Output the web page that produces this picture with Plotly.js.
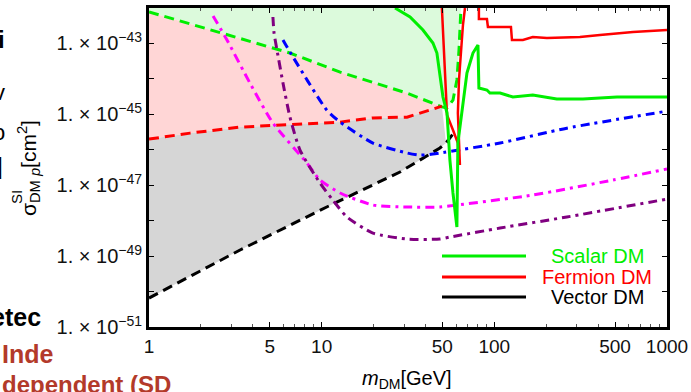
<!DOCTYPE html>
<html><head><meta charset="utf-8">
<script src="https://cdn.plot.ly/plotly-3.0.1.min.js"></script>
<style>html,body{margin:0;padding:0;background:#fff;}#chart{width:691px;height:392px;}</style>
</head><body><div id="chart"></div>
<script>
// ---------- data (m in GeV, sigma in cm^2) ----------
const scalarBoundM     = [1, 2.68, 6.55, 12.8, 31.2, 49.7, 53.2, 57.6, 60.7, 62.4, 64.1];
const scalarBoundSigma = [7.76e-43, 1.95e-43, 5.37e-44, 1.55e-44, 3.98e-45, 1.62e-45, 1.51e-45, 2.51e-45, 9.33e-45, 6.46e-44, 1.0e-42];

const fermionBoundM     = [1, 1.73, 3.37, 6.55, 12.8, 19.8, 31.2, 42.4, 49.7];
const fermionBoundSigma = [2.0e-46, 2.95e-46, 4.37e-46, 5.01e-46, 6.03e-46, 7.94e-46, 8.32e-46, 1.32e-45, 1.70e-45];

const vectorBoundM     = [1, 3.37, 10.7, 28.4, 48.4, 52.5, 59.9];
const vectorBoundSigma = [6.56e-51, 1.49e-49, 2.43e-48, 2.36e-47, 1.12e-46, 1.55e-46, 3.61e-46];

const blueM     = [5.97, 6.55, 10.7, 12.8, 19.8, 31.2, 37.1, 44.1, 48.4, 108, 263, 1000];
const blueSigma = [1.26e-43, 5.75e-44, 1.32e-45, 6.03e-46, 1.55e-46, 8.13e-47, 7.08e-47, 7.59e-47, 8.13e-47, 1.55e-46, 4.07e-46, 1.23e-45];

const magentaM     = [2.35, 2.83, 3.84, 5.22, 8.22, 9.78, 12.8, 19.8, 31.2, 48.4, 60.7, 167, 486, 1000];
const magentaSigma = [5.94e-43, 1.25e-43, 7.66e-45, 5.69e-46, 4.23e-47, 1.40e-47, 6.03e-48, 2.76e-48, 2.43e-48, 2.43e-48, 2.76e-48, 5.28e-48, 1.40e-47, 2.88e-47];

const purpleM     = [5.22, 5.30, 5.51, 5.97, 6.55, 7.49, 9.78, 11.6, 14.0, 19.8, 31.2, 48.4, 55.3, 108, 263, 1000];
const purpleSigma = [5.57e-43, 1.97e-43, 6.53e-44, 7.66e-45, 8.39e-46, 9.84e-47, 1.15e-47, 3.82e-48, 1.27e-48, 4.48e-49, 3.03e-49, 3.03e-49, 3.45e-49, 6.19e-49, 1.27e-48, 4.07e-48];

const scalarM     = [26.6, 32.5, 38.6, 44.1, 46.5, 48.4, 50.4, 53.2, 55.3, 57.6, 60.7, 61.5, 64.9, 69.4, 75.2, 80.4, 81.4, 90.6, 94.3, 108, 128, 167, 230, 326, 513, 1000];
const scalarSigma = [1.0e-42, 5.57e-43, 2.39e-43, 1.03e-43, 5.37e-44, 1.47e-44, 3.08e-45, 1.09e-45, 5.14e-47, 6.03e-48, 6.61e-49, 1.55e-46, 1.32e-45, 1.47e-44, 5.37e-44, 9.04e-44, 5.53e-45, 4.85e-45, 4.0e-45, 4.0e-45, 3.08e-45, 3.51e-45, 2.70e-45, 2.70e-45, 3.08e-45, 3.08e-45];

const fermionM     = [49.7, 51.1, 52.5, 53.2, 57.6, 61.5, 63.2, 62.4, 61.5, 62.4, 64.1, 65.8, 67.6, null, 81.4, 81.4, 90.6, 91.8, 124.8, 126.5, 146.4, 167, 201.6, 313, 409, 635, 1000];
const fermionSigma = [1.0e-42, 6.53e-44, 4.85e-45, 9.57e-46, 3.61e-46, 1.55e-46, 3.72e-47, 1.88e-46, 1.09e-45, 9.29e-45, 6.53e-44, 3.31e-43, 1.0e-42, null, 1.2e-42, 4.9e-43, 4.9e-43, 2.91e-43, 2.91e-43, 1.25e-43, 1.25e-43, 1.52e-43, 1.43e-43, 1.52e-43, 1.73e-43, 2.10e-43, 2.39e-43];

const xTickVals = [1, 5, 10, 50, 100, 500, 1000];
const xTickText = ['1', '5', '10', '50', '100', '500', '1000'];
const xMinorVals = [2,3,4,6,7,8,9,20,30,40,60,70,80,90,200,300,400,600,700,800,900];
const yLabelled  = [-51, -49, -47, -45, -43];
const yUnlabelled = [-50, -48, -46, -44, -42];

const legendNames = ['Scalar DM', 'Fermion DM', 'Vector DM'];

// ---------- styles ----------
const GREEN = '#00ee00', RED = '#ff0000', BLACK = '#000000';
const FONT = '"Liberation Sans", Arial, Helvetica, sans-serif';
const DASH = '10px,6px';
const DOTDASH = '9px,5px,3px,5px';

const yRangeLog = [-51, -42];
const yAbove = Math.pow(10, yRangeLog[1] + 0.5);

// fill regions built from the bound curves
const meetM = fermionBoundM[fermionBoundM.length - 1];
const greenFillX = scalarBoundM.concat([scalarBoundM[scalarBoundM.length-1], scalarBoundM[0]]);
const greenFillY = scalarBoundSigma.concat([yAbove, yAbove]);

const pinkIdx = scalarBoundM.map((m,i)=>i).filter(i => scalarBoundM[i] <= meetM);
const pinkX = pinkIdx.map(i=>scalarBoundM[i]).concat(fermionBoundM.slice().reverse());
const pinkY = pinkIdx.map(i=>scalarBoundSigma[i]).concat(fermionBoundSigma.slice().reverse());

const grayEdgeM = 52.5;
const grayIdx = vectorBoundM.map((m,i)=>i).filter(i => vectorBoundM[i] <= grayEdgeM).reverse();
const grayX = fermionBoundM.concat(grayIdx.map(i=>vectorBoundM[i]));
const grayY = fermionBoundSigma.concat(grayIdx.map(i=>vectorBoundSigma[i]));

const traces = [
  {x: greenFillX, y: greenFillY, fill:'toself', fillcolor:'#dcfadc', mode:'lines', line:{width:0}, hoverinfo:'skip'},
  {x: pinkX, y: pinkY, fill:'toself', fillcolor:'#ffd6d6', mode:'lines', line:{width:0}, hoverinfo:'skip'},
  {x: grayX, y: grayY, fill:'toself', fillcolor:'#d6d6d6', mode:'lines', line:{width:0}, hoverinfo:'skip'},
  {x: scalarBoundM, y: scalarBoundSigma, mode:'lines', line:{color:GREEN, width:3, dash:DASH}},
  {x: fermionBoundM, y: fermionBoundSigma, mode:'lines', line:{color:RED, width:3, dash:DASH}},
  {x: vectorBoundM, y: vectorBoundSigma, mode:'lines', line:{color:BLACK, width:3, dash:DASH}},
  {x: blueM, y: blueSigma, mode:'lines', line:{color:'#0000ff', width:3, dash:DOTDASH, shape:'spline', smoothing:0.6}},
  {x: magentaM, y: magentaSigma, mode:'lines', line:{color:'#ff00ff', width:3, dash:DOTDASH, shape:'spline', smoothing:0.6}},
  {x: purpleM, y: purpleSigma, mode:'lines', line:{color:'#800080', width:3, dash:DOTDASH, shape:'spline', smoothing:0.6}},
  {x: fermionM, y: fermionSigma, mode:'lines', connectgaps:false, line:{color:RED, width:2.5}},
  {x: scalarM, y: scalarSigma, mode:'lines', line:{color:GREEN, width:3}}
];

const L = 149, R = 667, T = 8, B = 327;
const px = p => (p - L) / (R - L);
const py = p => (B - p) / (B - T);

const legendColors = [GREEN, RED, BLACK];
const legendY = [256, 277, 297];
const shapes = legendNames.map((n,i)=>({type:'line', xref:'paper', yref:'paper', x0:px(442), x1:px(526), y0:py(legendY[i]), y1:py(legendY[i]), line:{color:legendColors[i], width:3}}));

const annotations = legendNames.map((n,i)=>({text:n, xref:'paper', yref:'paper', x:px(597), y:py(legendY[i]), xanchor:'center', yanchor:'middle', showarrow:false, font:{family:FONT, size:20, color:legendColors[i]}}));

annotations.push(
  {text:'<i>m</i><sub>DM</sub>[GeV]', xref:'paper', yref:'paper', x:px(407), y:py(379), xanchor:'center', yanchor:'middle', showarrow:false, font:{family:FONT, size:20, color:'#000'}},
  {text:'σ<sub>DM <i>p</i></sub>[cm<sup>2</sup>]', textangle:-90, xref:'paper', yref:'paper', x:px(29), y:py(168), xanchor:'center', yanchor:'middle', showarrow:false, font:{family:FONT, size:21, color:'#000'}},
  {text:'SI', textangle:-90, xref:'paper', yref:'paper', x:px(16), y:py(197), xanchor:'center', yanchor:'middle', showarrow:false, font:{family:FONT, size:15, color:'#000'}},
  // fragments of neighbouring page text visible at the left edge
  {text:'<b>i</b>', xref:'paper', yref:'paper', x:px(7), y:py(40), xanchor:'right', yanchor:'middle', showarrow:false, font:{family:FONT, size:24, color:'#000'}},
  {text:'v', xref:'paper', yref:'paper', x:px(7), y:py(93), xanchor:'right', yanchor:'middle', showarrow:false, font:{family:FONT, size:22, color:'#000'}},
  {text:'o', xref:'paper', yref:'paper', x:px(7), y:py(132), xanchor:'right', yanchor:'middle', showarrow:false, font:{family:FONT, size:22, color:'#000'}},
  {text:'|', xref:'paper', yref:'paper', x:px(5), y:py(165), xanchor:'right', yanchor:'middle', showarrow:false, font:{family:FONT, size:24, color:'#000'}},
  {text:'<b>etec</b>', xref:'paper', yref:'paper', x:px(43), y:py(317), xanchor:'right', yanchor:'middle', showarrow:false, font:{family:FONT, size:25, color:'#000'}},
  {text:'<b>Inde</b>', xref:'paper', yref:'paper', x:px(0), y:py(354), xanchor:'left', yanchor:'middle', showarrow:false, font:{family:FONT, size:25, color:'#b33a2a'}},
  {text:'<b>dependent (SD</b>', xref:'paper', yref:'paper', x:px(0), y:py(384), xanchor:'left', yanchor:'middle', showarrow:false, font:{family:FONT, size:24, color:'#b33a2a'}}
);

const yTickVals = yLabelled.map(e => Math.pow(10, e));
const yTickText = yLabelled.map(e => '1. × 10<sup>−' + Math.abs(e) + '</sup>');
const yMinorVals = yUnlabelled.map(e => Math.pow(10, e));

const layout = {
  width: 691, height: 392,
  margin: {l: L, r: 691 - R, t: T, b: 392 - B, pad: 0},
  paper_bgcolor: '#fff', plot_bgcolor: '#fff',
  showlegend: false,
  font: {family: FONT, size: 19, color: '#111'},
  xaxis: {
    type: 'log', range: [0, 3], showgrid: false, zeroline: false,
    showline: true, linecolor: '#000', linewidth: 3, mirror: 'ticks',
    ticks: 'inside', ticklen: 5, tickwidth: 1, tickcolor: '#000',
    tickmode: 'array', tickvals: xTickVals, ticktext: xTickText,
    tickfont: {family: FONT, size: 19, color: '#111'},
    minor: {ticks: 'inside', ticklen: 3, tickwidth: 1, tickcolor: '#555', tickmode: 'array', tickvals: xMinorVals, showgrid: false}
  },
  yaxis: {
    type: 'log', range: yRangeLog, showgrid: false, zeroline: false,
    showline: true, linecolor: '#000', linewidth: 3, mirror: 'ticks',
    ticks: 'inside', ticklen: 5, tickwidth: 1, tickcolor: '#000',
    tickmode: 'array', tickvals: yTickVals, ticktext: yTickText,
    tickfont: {family: FONT, size: 20, color: '#111'},
    minor: {ticks: 'inside', ticklen: 5, tickwidth: 1, tickcolor: '#000', tickmode: 'array', tickvals: yMinorVals, showgrid: false}
  },
  shapes: shapes,
  annotations: annotations
};

Plotly.newPlot('chart', traces, layout, {staticPlot: true, displayModeBar: false});
</script></body></html>
